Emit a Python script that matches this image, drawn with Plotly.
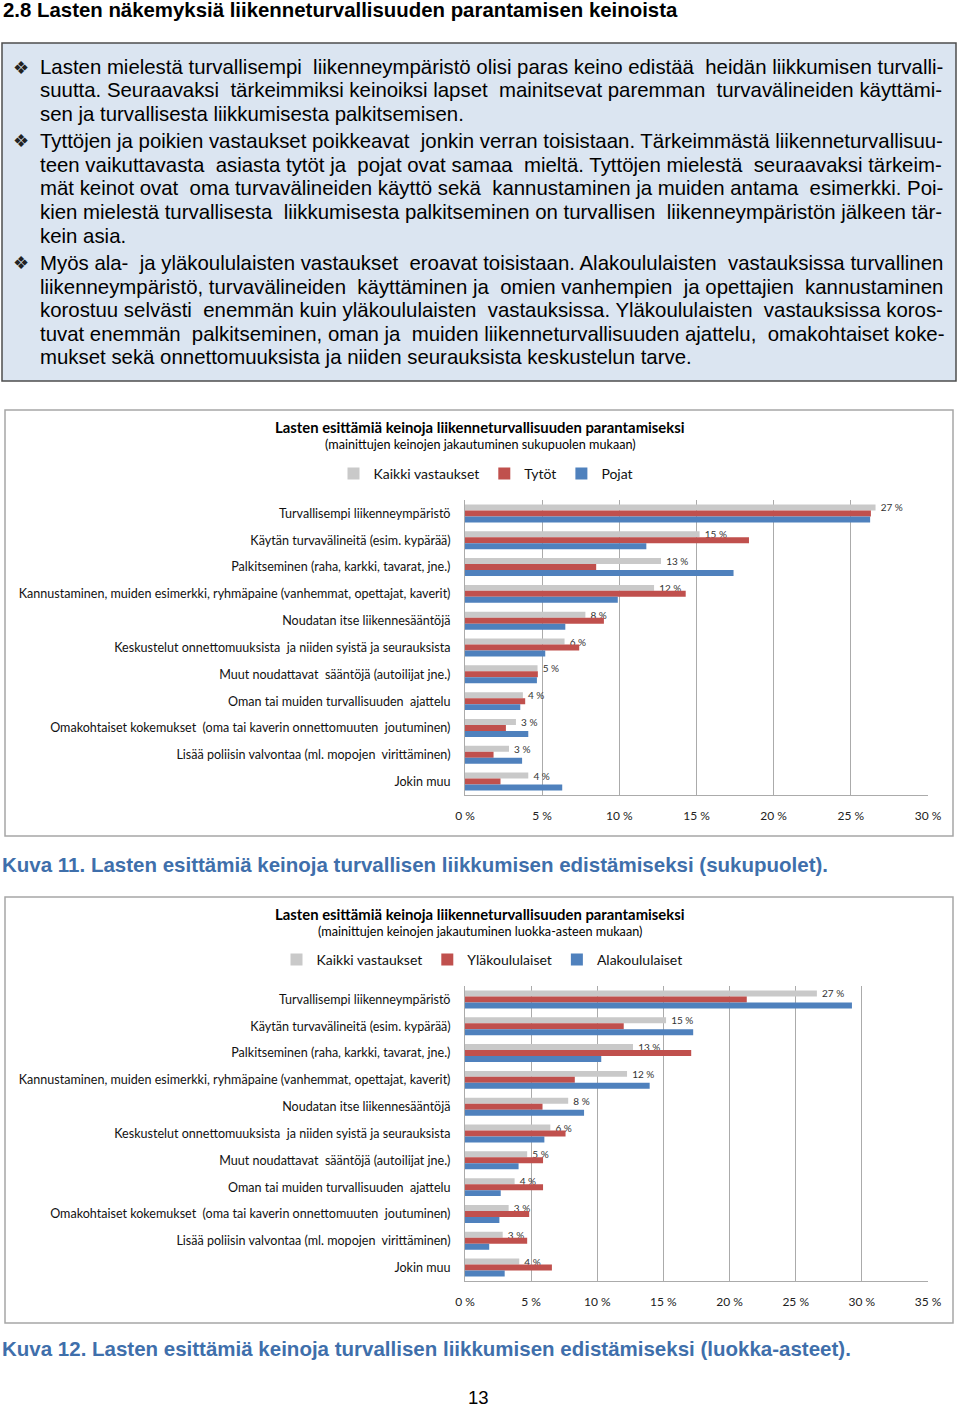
import math
import plotly.graph_objects as go

# ---------------- data ----------------
categories = [
    "Turvallisempi liikenneympäristö",
    "Käytän turvavälineitä (esim. kypärää)",
    "Palkitseminen (raha, karkki, tavarat, jne.)",
    "Kannustaminen, muiden esimerkki, ryhmäpaine (vanhemmat, opettajat, kaverit)",
    "Noudatan itse liikennesääntöjä",
    "Keskustelut onnettomuuksista  ja niiden syistä ja seurauksista",
    "Muut noudattavat  sääntöjä (autoilijat jne.)",
    "Oman tai muiden turvallisuuden  ajattelu",
    "Omakohtaiset kokemukset  (oma tai kaverin onnettomuuten  joutuminen)",
    "Lisää poliisin valvontaa (ml. mopojen  virittäminen)",
    "Jokin muu",
]
all_answers = [26.6, 15.2, 12.7, 12.25, 7.8, 6.45, 4.7, 3.75, 3.3, 2.85, 4.1]
girls = [26.3, 18.4, 8.5, 14.3, 9.0, 7.4, 4.72, 3.9, 2.65, 1.85, 2.3]
boys = [26.25, 11.75, 17.4, 9.9, 6.5, 5.2, 4.66, 3.58, 4.1, 3.7, 6.3]
upper_school = [21.3, 12.0, 17.1, 8.3, 5.86, 7.6, 5.9, 5.9, 4.85, 4.7, 6.57]
lower_school = [29.25, 17.25, 10.3, 13.96, 9.0, 6.0, 4.05, 2.7, 2.6, 1.83, 3.0]

ticks1 = [0, 5, 10, 15, 20, 25, 30]
ticks2 = [0, 5, 10, 15, 20, 25, 30, 35]

heading = "2.8 Lasten näkemyksiä liikenneturvallisuuden parantamisen keinoista"
# (bullet?, justified?, text)
box_lines = [
    (True, True, "Lasten mielestä turvallisempi liikenneympäristö olisi paras keino edistää heidän liikkumisen turvalli-"),
    (False, True, "suutta. Seuraavaksi tärkeimmiksi keinoiksi lapset mainitsevat paremman turvavälineiden käyttämi-"),
    (False, False, "sen ja turvallisesta liikkumisesta palkitsemisen."),
    (True, True, "Tyttöjen ja poikien vastaukset poikkeavat jonkin verran toisistaan. Tärkeimmästä liikenneturvallisuu-"),
    (False, True, "teen vaikuttavasta asiasta tytöt ja pojat ovat samaa mieltä. Tyttöjen mielestä seuraavaksi tärkeim-"),
    (False, True, "mät keinot ovat oma turvavälineiden käyttö sekä kannustaminen ja muiden antama esimerkki. Poi-"),
    (False, True, "kien mielestä turvallisesta liikkumisesta palkitseminen on turvallisen liikenneympäristön jälkeen tär-"),
    (False, False, "kein asia."),
    (True, True, "Myös ala- ja yläkoululaisten vastaukset eroavat toisistaan. Alakoululaisten vastauksissa turvallinen"),
    (False, True, "liikenneympäristö, turvavälineiden käyttäminen ja omien vanhempien ja opettajien kannustaminen"),
    (False, True, "korostuu selvästi enemmän kuin yläkoululaisten vastauksissa. Yläkoululaisten vastauksissa koros-"),
    (False, True, "tuvat enemmän palkitseminen, oman ja muiden liikenneturvallisuuden ajattelu, omakohtaiset koke-"),
    (False, False, "mukset sekä onnettomuuksista ja niiden seurauksista keskustelun tarve."),
]
line_y = [67, 90, 114, 141, 165, 188, 212, 236, 263, 287, 310, 334, 357]

chart_title = "Lasten esittämiä keinoja liikenneturvallisuuden parantamiseksi"
sub1 = "(mainittujen keinojen jakautuminen sukupuolen mukaan)"
sub2 = "(mainittujen keinojen jakautuminen luokka-asteen mukaan)"
caption1 = "Kuva 11. Lasten esittämiä keinoja turvallisen liikkumisen edistämiseksi (sukupuolet)."
caption2 = "Kuva 12. Lasten esittämiä keinoja turvallisen liikkumisen edistämiseksi (luokka-asteet)."
page_no = "13"

# ---------------- styling ----------------
W, H = 960, 1407
GRAY, RED, BLUE = "#c9c9c9", "#c0504d", "#4f81bd"
CAL = "Lato, 'Open Sans', sans-serif"
ARIAL = "'Liberation Sans', Arial, sans-serif"
BODY_SIZE = 20.4
TEXT_LEFT, TEXT_RIGHT = 38, 944

# Arial / Liberation Sans advance widths (1/1000 em), used to justify the box text
_AW = {" ": 278, ".": 278, ",": 278, "-": 333, "(": 333, ")": 333, ":": 278}
_AW.update({c: 556 for c in "0123456789"})
_AW.update(dict(zip("ABCDEFGHIJKLMNOPQRSTUVWXYZ",
                    [667, 667, 722, 722, 667, 611, 778, 722, 278, 500, 667, 556, 833,
                     722, 778, 667, 778, 722, 667, 611, 722, 667, 944, 667, 667, 611])))
_AW.update(dict(zip("abcdefghijklmnopqrstuvwxyz",
                    [556, 556, 500, 556, 556, 278, 556, 556, 222, 222, 500, 222, 833,
                     556, 556, 556, 556, 333, 500, 278, 556, 500, 722, 500, 500, 500])))
_AW.update({"ä": 556, "ö": 556, "Ä": 667, "Ö": 778})


def text_width(s, size):
    return sum(_AW.get(c, 556) for c in s) * size / 1000.0


def justify(s, size, width):
    words = s.split(" ")
    gaps = len(words) - 1
    extra = width - text_width(s, size)
    k = int(math.floor(extra / text_width(" ", size) + 0.35))
    if gaps <= 0 or k <= 0:
        return s
    base, rem = divmod(k, gaps)
    bonus = set(int((i + 0.5) * gaps / rem) for i in range(rem)) if rem else set()
    out = words[0]
    for i, w in enumerate(words[1:]):
        n = base + (1 if i in bonus else 0)
        out += " " + "\u00a0" * n + w
    return out


def px(x):
    return x / W


def py(y):
    return 1 - y / H


fig = go.Figure()

labels = ["\u00a0\u00a0" + f"{round(v)} %" for v in all_answers]


def add_chart(series, names, xa, ya, legend):
    colors = [GRAY, RED, BLUE]
    for i, (vals, name) in enumerate(zip(series, names)):
        fig.add_trace(go.Bar(
            y=categories, x=vals, name=name, orientation="h",
            marker=dict(color=colors[i], line=dict(width=0)),
            xaxis=xa, yaxis=ya, legend=legend,
            text=labels if i == 0 else None,
            textposition="outside" if i == 0 else "none",
            textfont=dict(family=CAL, size=10, color="#333333"),
            constraintext="none", cliponaxis=False,
            hoverinfo="x+y+name",
        ))


add_chart([all_answers, girls, boys], ["Kaikki vastaukset", "Tytöt", "Pojat"], "x", "y", "legend")
add_chart([all_answers, upper_school, lower_school],
          ["Kaikki vastaukset", "Yläkoululaiset", "Alakoululaiset"], "x2", "y2", "legend2")

xcommon = dict(showgrid=True, gridcolor="#ababab", gridwidth=1, zeroline=False,
               showline=True, linecolor="#ababab", linewidth=1, automargin=False,
               tickfont=dict(family=CAL, size=12, color="#222222"), ticks="",
               ticklabelstandoff=10, fixedrange=True)
ycommon = dict(autorange="reversed", showgrid=False, zeroline=False, showline=True,
               linecolor="#ababab", linewidth=1, ticks="", automargin=False,
               tickfont=dict(family=CAL, size=12.55, color="#111111"),
               ticklabelstandoff=11, fixedrange=True)

fig.update_layout(
    width=W, height=H, autosize=False, margin=dict(l=0, r=0, t=0, b=0),
    paper_bgcolor="white", plot_bgcolor="white",
    barmode="group", bargap=0.33, bargroupgap=0,
    showlegend=True,
    xaxis=dict(domain=[px(465), px(928)], anchor="y", range=[0, 30],
               tickvals=ticks1, ticktext=[f"{t} %" for t in ticks1], **xcommon),
    yaxis=dict(domain=[py(795), py(500)], anchor="x", **ycommon),
    xaxis2=dict(domain=[px(465), px(928)], anchor="y2", range=[0, 35],
                tickvals=ticks2, ticktext=[f"{t} %" for t in ticks2], **xcommon),
    yaxis2=dict(domain=[py(1281), py(986)], anchor="x2", **ycommon),
    legend=dict(orientation="h", x=px(486), xanchor="center", y=py(474), yanchor="middle",
                font=dict(family=CAL, size=14, color="#111111"), bgcolor="rgba(0,0,0,0)",
                itemclick=False, itemdoubleclick=False),
    legend2=dict(orientation="h", x=px(482), xanchor="center", y=py(960), yanchor="middle",
                 font=dict(family=CAL, size=14, color="#111111"), bgcolor="rgba(0,0,0,0)",
                 itemclick=False, itemdoubleclick=False),
)

shapes = [
    dict(type="rect", xref="paper", yref="paper", x0=px(2), x1=px(956), y0=py(381), y1=py(43),
         fillcolor="#dbe5f1", line=dict(color="#4d4d4d", width=1.5), layer="below"),
    dict(type="rect", xref="paper", yref="paper", x0=px(5), x1=px(953), y0=py(836), y1=py(410),
         fillcolor="rgba(0,0,0,0)", line=dict(color="#a6a6a6", width=1.5), layer="below"),
    dict(type="rect", xref="paper", yref="paper", x0=px(5), x1=px(953), y0=py(1323), y1=py(897),
         fillcolor="rgba(0,0,0,0)", line=dict(color="#a6a6a6", width=1.5), layer="below"),
]
fig.update_layout(shapes=shapes)

ann = []


def text(x, y, s, size, family=ARIAL, color="#000000", bold=False, anchor="left"):
    ann.append(dict(x=px(x), y=py(y), xref="paper", yref="paper", text=(f"<b>{s}</b>" if bold else s),
                    showarrow=False, xanchor=anchor, yanchor="middle",
                    font=dict(family=family, size=size, color=color)))


text(1, 10, heading, 20.4, bold=True)
for (bullet, just, s), y in zip(box_lines, line_y):
    if bullet:
        text(11, y, "❖", 18, family="'DejaVu Sans'", color="#222222")
    line = justify(s, BODY_SIZE, TEXT_RIGHT - TEXT_LEFT) if just else s
    text(TEXT_LEFT, y, line, BODY_SIZE)

text(480, 427, chart_title, 14.85, family=CAL, bold=True, anchor="center")
text(480, 445, sub1, 12.65, family=CAL, anchor="center")
text(480, 914, chart_title, 14.85, family=CAL, bold=True, anchor="center")
text(480, 931, sub2, 12.65, family=CAL, anchor="center")

text(0, 864, caption1, 20.5, color="#3f6fab", bold=True)
text(0, 1348, caption2, 20.5, color="#3f6fab", bold=True)
text(478, 1397, page_no, 18.5, anchor="center")

fig.update_layout(annotations=ann)

fig.write_html(
    "out.html",
    config=dict(responsive=False, displayModeBar=False),
    post_script="document.body.style.margin='0';document.body.style.padding='0';",
)
